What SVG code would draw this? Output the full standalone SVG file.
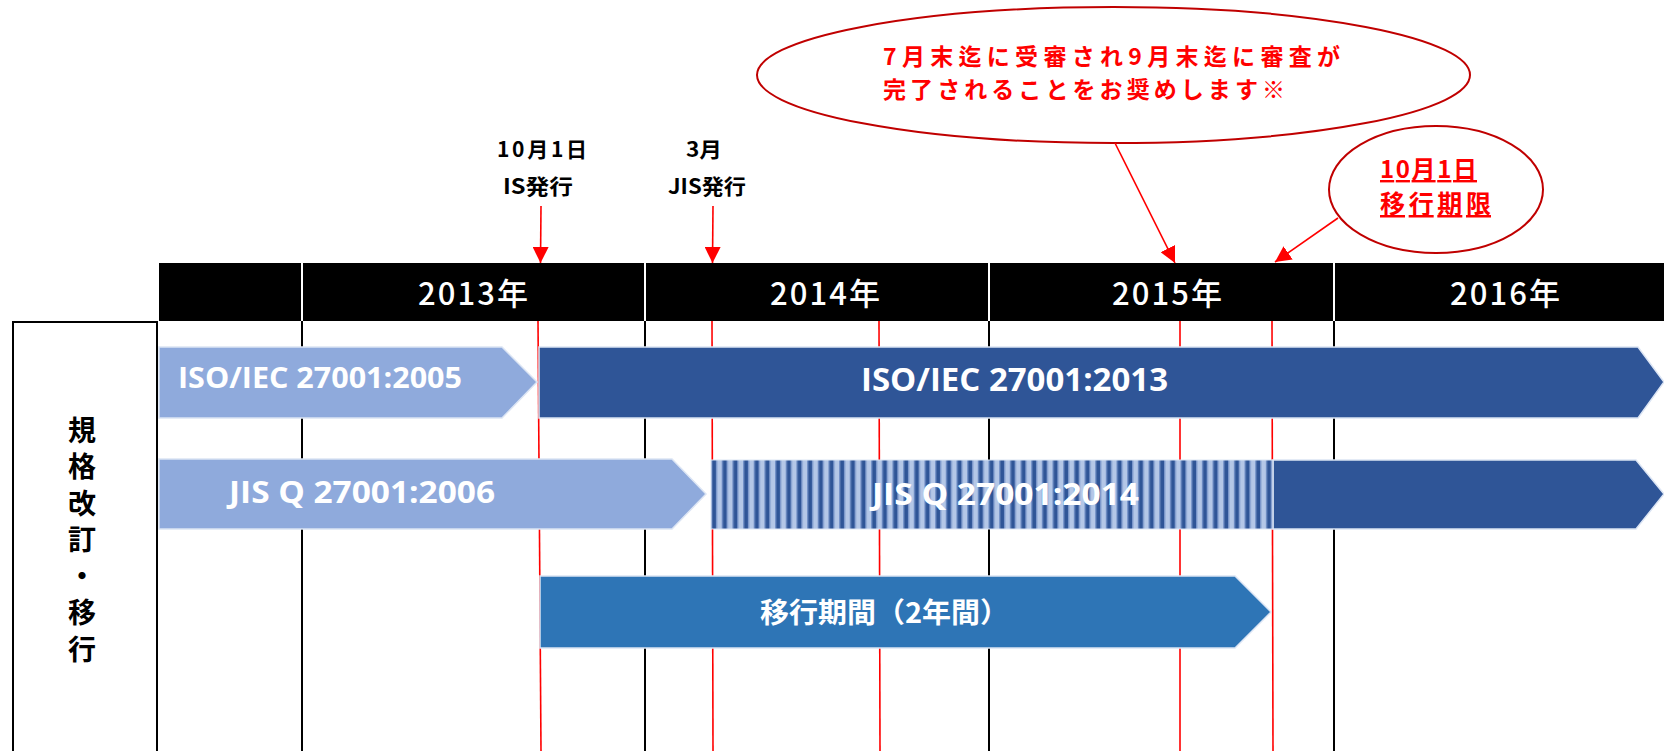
<svg xmlns="http://www.w3.org/2000/svg" width="1664" height="751" viewBox="0 0 1664 751">
<style>
.yr{font-family:"Noto Sans CJK JP","Noto Sans",sans-serif;font-size:31px;font-weight:500;fill:#fff}
.bl{font-family:"Open Sans","Liberation Sans",sans-serif;font-weight:700;fill:#fff}
.jp{font-family:"Noto Sans CJK JP",sans-serif;font-weight:700}
.note{fill:#000;font-size:21px}
.red{fill:#FF0000}
.grid{stroke:#000;stroke-width:2}
.rgrid{stroke:#FF0000;stroke-width:1.6}
.bar{stroke:#DCE5F4;stroke-width:1.5}
.conn{stroke:#FF0000;stroke-width:1.6;fill:none}
.ell{fill:#fff;stroke:#C00000;stroke-width:2}
</style>
<defs>
<marker id="ah2" viewBox="0 0 10 10" refX="10" refY="5" markerWidth="16" markerHeight="16" markerUnits="userSpaceOnUse" orient="auto">
<path d="M0,0 L10,5 L0,10 z" fill="#FF0000"/>
</marker>
<pattern id="stripe" x="711" y="0" width="10.67" height="20" patternUnits="userSpaceOnUse">
<rect width="10.67" height="20" fill="#B4C7E7"/>
<rect x="0" width="1.2" height="20" fill="#7391C8"/>
<rect x="1.2" width="3.8" height="20" fill="#2F5597"/>
<rect x="5" width="1.2" height="20" fill="#7391C8"/>
</pattern>
</defs>
<rect width="1664" height="751" fill="#fff"/>

<g id="header">
<rect x="159" y="263" width="1505" height="58" fill="#000"/>
<g stroke="#fff" stroke-width="2">
<line x1="302" y1="263" x2="302" y2="321"/>
<line x1="645" y1="263" x2="645" y2="321"/>
<line x1="989" y1="263" x2="989" y2="321"/>
<line x1="1334" y1="263" x2="1334" y2="321"/>
</g>
<text class="yr" x="418" y="305" textLength="110" lengthAdjust="spacing">2013年</text>
<text class="yr" x="770" y="305" textLength="110" lengthAdjust="spacing">2014年</text>
<text class="yr" x="1112" y="305" textLength="110" lengthAdjust="spacing">2015年</text>
<text class="yr" x="1450" y="305" textLength="110" lengthAdjust="spacing">2016年</text>
</g>

<g id="gridlines">
<line class="grid" x1="302" y1="321" x2="302" y2="751"/>
<line class="grid" x1="645" y1="321" x2="645" y2="751"/>
<line class="grid" x1="989" y1="321" x2="989" y2="751"/>
<line class="grid" x1="1334" y1="321" x2="1334" y2="751"/>
<line class="rgrid" x1="538" y1="321" x2="541" y2="751"/>
<line class="rgrid" x1="712" y1="321" x2="713" y2="751"/>
<line class="rgrid" x1="879" y1="321" x2="880" y2="751"/>
<line class="rgrid" x1="1180" y1="321" x2="1180" y2="751"/>
<line class="rgrid" x1="1272" y1="321" x2="1273" y2="751"/>
</g>

<g id="label">
<rect x="13" y="322" width="144" height="440" fill="none" stroke="#000" stroke-width="2"/>
<text class="jp" font-size="28" fill="#000" x="82" y="416" writing-mode="vertical-rl" letter-spacing="8.5">規格改訂・移行</text>
</g>

<g id="iso2005">
<path class="bar" d="M159,347 L502,347 L537,382 L502,418 L159,418 z" fill="#8FAADC"/>
<text class="bl" x="178" y="388" font-size="28" textLength="284" lengthAdjust="spacingAndGlyphs">ISO/IEC 27001:2005</text>
</g>
<g id="iso2013">
<path class="bar" d="M539,347 L1638,347 L1664,382 L1638,418 L539,418 z" fill="#2F5597"/>
<text class="bl" x="861" y="391" font-size="32" textLength="307" lengthAdjust="spacingAndGlyphs">ISO/IEC 27001:2013</text>
</g>
<g id="jis2006">
<path class="bar" d="M159,459 L672,459 L706,494 L672,529 L159,529 z" fill="#8FAADC"/>
<text class="bl" x="229" y="503" font-size="30" textLength="266" lengthAdjust="spacingAndGlyphs">JIS Q 27001:2006</text>
</g>
<g id="jis2014">
<path d="M1273,460 L1636,460 L1664,494 L1636,529 L1273,529 z" fill="#2F5597" class="bar"/>
<rect x="711" y="460" width="562" height="69" fill="url(#stripe)" stroke="#DCE5F4" stroke-width="1"/>
<text class="bl" x="872" y="505" font-size="30" textLength="267" lengthAdjust="spacingAndGlyphs">JIS Q 27001:2014</text>
</g>
<g id="transition">
<path class="bar" d="M540,576 L1235,576 L1271,612 L1235,648 L540,648 z" fill="#2E75B6"/>
<text class="jp" x="760" y="623" font-size="28" fill="#fff" textLength="249" lengthAdjust="spacingAndGlyphs">移行期間（2年間）</text>
</g>

<g id="issue-is">
<text class="jp note" x="497" y="157" textLength="90" lengthAdjust="spacing">10月1日</text>
<text class="jp note" x="503" y="194" textLength="70" lengthAdjust="spacingAndGlyphs">IS発行</text>
</g>
<g id="issue-jis">
<text class="jp note" x="686" y="157" textLength="36" lengthAdjust="spacingAndGlyphs">3月</text>
<text class="jp note" x="668" y="194" textLength="78" lengthAdjust="spacingAndGlyphs">JIS発行</text>
</g>

<g id="callout-main">
<ellipse class="ell" cx="1113.5" cy="75" rx="356.5" ry="68"/>
<text class="jp red" x="883" y="65" font-size="23" font-weight="900" textLength="457" lengthAdjust="spacing">7月末迄に受審され9月末迄に審査が</text>
<text class="jp red" x="883" y="98" font-size="23" font-weight="900" textLength="402" lengthAdjust="spacing">完了されることをお奨めします※</text>
</g>
<g id="callout-deadline">
<ellipse class="ell" cx="1436" cy="189.5" rx="107" ry="63.5"/>
<text class="jp red" x="1380" y="178" font-size="24" text-decoration="underline" textLength="97" lengthAdjust="spacing">10月1日</text>
<text class="jp red" x="1380" y="213" font-size="25" text-decoration="underline" textLength="111" lengthAdjust="spacing">移行期限</text>
</g>

<g id="connectors">
<line class="conn" x1="541" y1="206" x2="540.5" y2="263" marker-end="url(#ah2)"/>
<line class="conn" x1="713" y1="206" x2="712.5" y2="263" marker-end="url(#ah2)"/>
<line class="conn" x1="1115" y1="143" x2="1175" y2="263" marker-end="url(#ah2)"/>
<line class="conn" x1="1338" y1="218" x2="1275" y2="262" marker-end="url(#ah2)"/>
</g>
</svg>
